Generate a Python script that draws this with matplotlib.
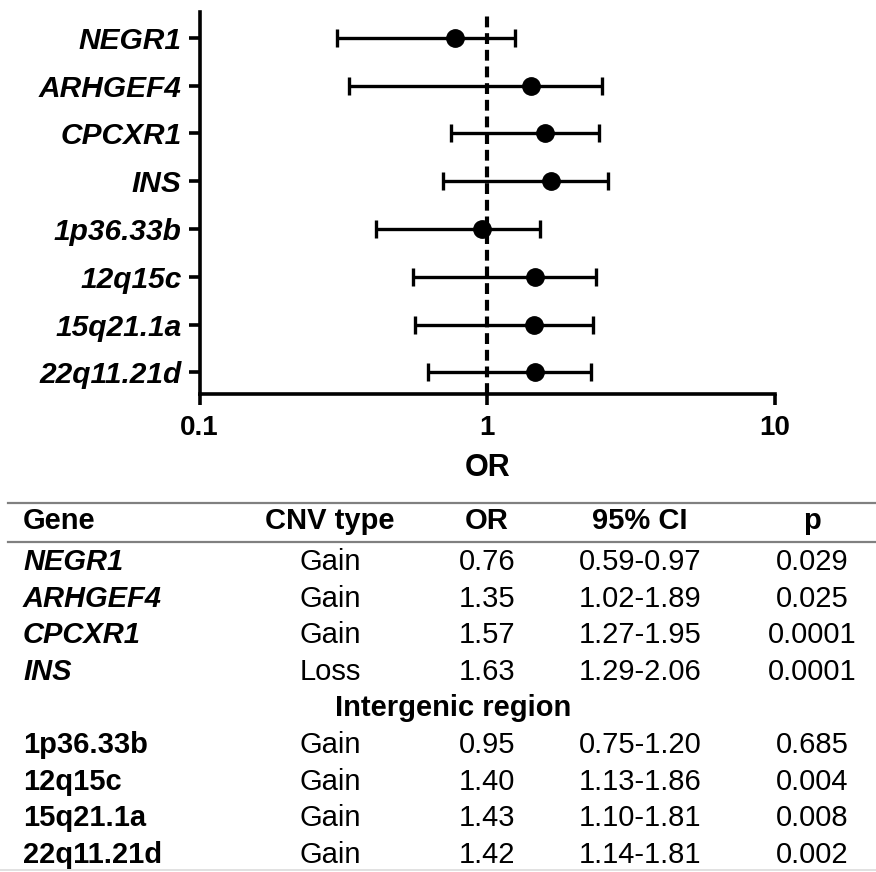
"""Forest plot of CNV odds ratios with summary table underneath."""
import matplotlib
matplotlib.use("Agg")
import matplotlib.pyplot as plt
from matplotlib.lines import Line2D

plt.rcParams["font.family"] = ["Liberation Sans", "DejaVu Sans"]

# --- plot data ---
labels = ["NEGR1", "ARHGEF4", "CPCXR1", "INS", "1p36.33b", "12q15c", "15q21.1a", "22q11.21d"]
or_pt = [0.77, 1.42, 1.59, 1.66, 0.96, 1.46, 1.45, 1.46]
ci_lo = [0.30, 0.33, 0.75, 0.70, 0.41, 0.55, 0.56, 0.62]
ci_hi = [1.25, 2.50, 2.44, 2.62, 1.53, 2.39, 2.33, 2.29]

# --- table data ---
genes = ["NEGR1", "ARHGEF4", "CPCXR1", "INS"]
regions = ["1p36.33b", "12q15c", "15q21.1a", "22q11.21d"]
cnv_type = ["Gain", "Gain", "Gain", "Loss", "Gain", "Gain", "Gain", "Gain"]
or_txt = ["0.76", "1.35", "1.57", "1.63", "0.95", "1.40", "1.43", "1.42"]
ci_txt = ["0.59-0.97", "1.02-1.89", "1.27-1.95", "1.29-2.06",
          "0.75-1.20", "1.13-1.86", "1.10-1.81", "1.14-1.81"]
p_txt = ["0.029", "0.025", "0.0001", "0.0001", "0.685", "0.004", "0.008", "0.002"]
header = ["Gene", "CNV type", "OR", "95% CI", "p"]

W, H = 876, 872
fig = plt.figure(figsize=(W / 100, H / 100), dpi=100)

# axes placed in pixel terms: x 199.5..775, y 12..394
ax = fig.add_axes([199.5 / W, 1 - 394 / H, (775 - 199.5) / W, (394 - 12) / H])
ypos = list(range(len(labels)))
xerr = [[o - l for o, l in zip(or_pt, ci_lo)], [h - o for o, h in zip(or_pt, ci_hi)]]
ax.axvline(1, color="k", lw=3.0, ls=(0, (2.6, 1.4)), zorder=1)
ax.errorbar(or_pt, ypos, xerr=xerr, fmt="o", color="k", ms=12.5, elinewidth=2.4,
            capsize=6.2, capthick=2.4, zorder=3)
ax.set_xscale("log")
ax.set_xlim(0.1, 10)
ax.set_ylim(7.45, -0.54)
ax.set_xticks([0.1, 1, 10])
ax.set_xticklabels(["0.1", "1", "10"], fontsize=20, fontweight="bold")
ax.xaxis.set_minor_locator(matplotlib.ticker.NullLocator())
ax.set_yticks(ypos)
ax.set_yticklabels(labels, fontsize=21.5, fontweight="bold", fontstyle="italic")
for s in ["top", "right"]:
    ax.spines[s].set_visible(False)
for s in ["left", "bottom"]:
    ax.spines[s].set_linewidth(2.6)
ax.tick_params(axis="x", length=8, width=2.6, pad=7)
ax.tick_params(axis="y", length=8, width=2.6, pad=5)
ax.set_xlabel("OR", fontsize=22, fontweight="bold", labelpad=9)

# --- table below ---
def fy(py):
    return 1 - py / H

col_x = [23, 330, 487, 640, 812]
fs = 21
rule_c = "#808080"
for py in (502.5, 541.5):
    fig.add_artist(Line2D([8 / W, 1], [fy(py), fy(py)], color=rule_c, lw=1.6))
fig.add_artist(Line2D([0, 1], [fy(870), fy(870)], color="#dcdcdc", lw=1.2))

for i, h in enumerate(header):
    fig.text(col_x[i] / W, fy(521), h, fontsize=fs, fontweight="bold",
             ha="left" if i == 0 else "center", va="center")

row_y = [562 + 36.6 * k for k in range(9)]
names = genes + [None] + regions
vals = list(zip(cnv_type, or_txt, ci_txt, p_txt))
k = 0
for r, name in enumerate(names):
    py = row_y[r]
    if name is None:
        fig.text(453 / W, fy(py), "Intergenic region", fontsize=fs,
                 fontweight="bold", ha="center", va="center")
        continue
    style = "italic" if name in genes else "normal"
    fig.text(col_x[0] / W, fy(py), name, fontsize=fs, fontweight="bold",
             fontstyle=style, ha="left", va="center")
    for j, v in enumerate(vals[k]):
        fig.text(col_x[j + 1] / W, fy(py), v, fontsize=fs, ha="center", va="center")
    k += 1

fig.savefig("out.png", dpi=100)
